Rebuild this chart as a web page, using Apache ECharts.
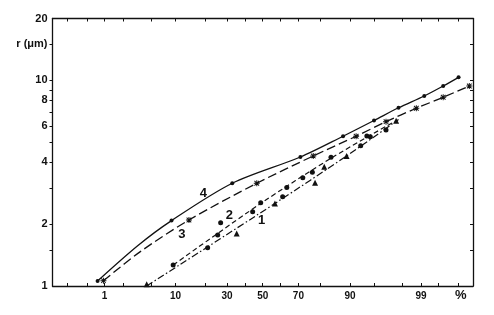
<!DOCTYPE html>
<html><head><meta charset="utf-8">
<script src="https://cdn.jsdelivr.net/npm/echarts@6/dist/echarts.min.js"></script>
<style>html,body{margin:0;padding:0;background:#fff}#c{width:494px;height:315px}</style>
</head><body><div id="c"></div>
<script>
// ---- Data: cumulative frequency (%) vs radius r (µm) ----
// Curve 4 (solid line, dots)
const c4Pct = [0.76, 9.0, 32.7, 71.0, 88.1, 94.9, 97.7, 99.12, 99.6, 99.8];
const c4R   = [1.058, 2.08, 3.16, 4.24, 5.35, 6.38, 7.36, 8.40, 9.39, 10.35];
const c4LinePct = [0.76, 3.3, 9.0, 32.7, 71.0, 88.1, 94.9, 97.7, 99.12, 99.6, 99.8];
const c4LineR   = [1.058, 1.57, 2.08, 3.16, 4.24, 5.35, 6.38, 7.36, 8.40, 9.39, 10.35];
// Curve 3 (long dashes, asterisks)
const c3Pct = [0.96, 13.9, 46.5, 77.1, 91.5, 96.5, 98.8, 99.6, 99.88];
const c3R   = [1.061, 2.094, 3.16, 4.29, 5.35, 6.30, 7.32, 8.28, 9.39];
const c3LinePct = [0.96, 3.6, 13.9, 46.5, 77.1, 91.5, 96.5, 98.8, 99.6, 99.88];
const c3LineR   = [1.061, 1.47, 2.094, 3.16, 4.29, 5.35, 6.30, 7.32, 8.28, 9.39];
// Curve 2 (short dashes, dots)
const c2Pct = [9.4, 20.9, 25.4, 26.8, 44.1, 48.8, 61.5, 63.8, 72.2, 76.7, 84.2, 92.5, 93.7, 94.3, 96.5];
const c2R   = [1.265, 1.536, 1.77, 2.03, 2.30, 2.54, 2.72, 3.01, 3.36, 3.57, 4.23, 4.81, 5.37, 5.32, 5.74];
const c2LinePct = [9.4, 48.8, 84.2, 97.3];
const c2LineR   = [1.265, 2.52, 4.18, 6.28];
// Curve 1 (dash-dot, triangles)
const c1Pct = [4.4, 35.1, 57.1, 77.9, 81.7, 89.1, 97.5];
const c1R   = [1.02, 1.80, 2.52, 3.18, 3.80, 4.29, 6.37];
const c1LinePct = [4.4, 57.1, 89.1, 97.7];
const c1LineR   = [1.0, 2.52, 4.29, 6.45];
// Curve number labels
const curveLabelText = ['4', '3', '2', '1'];
const curveLabelPct  = [19.1, 11.7, 31.2, 49.4];
const curveLabelR    = [2.82, 1.79, 2.21, 2.09];
// Axes
const xTickPct  = [0.2, 0.5, 1, 2, 5, 10, 20, 30, 40, 50, 60, 70, 80, 90, 95, 98, 99, 99.5, 99.8];
const xLabelPct = [1, 10, 30, 50, 70, 90, 99];
const xRangePct = [0.1, 99.9];
const yTicks  = [1.5, 2, 3, 4, 5, 6, 7, 8, 9, 10, 15];
const yLabels = [1, 2, 4, 6, 8, 10, 15, 20];
const yNameValue = 15;
const yName = 'r (μm)';

// inverse normal CDF (probability-paper transform)
function probit(p) {
  const a=[-3.969683028665376e+01,2.209460984245205e+02,-2.759285104469687e+02,1.383577518672690e+02,-3.066479806614716e+01,2.506628277459239e+00];
  const b=[-5.447609879822406e+01,1.615858368580409e+02,-1.556989798598866e+02,6.680131188771972e+01,-1.328068155288572e+01];
  const c=[-7.784894002430293e-03,-3.223964580411365e-01,-2.400758277161838e+00,-2.549732539343734e+00,4.374664141464968e+00,2.938163982698783e+00];
  const d=[7.784695709041462e-03,3.224671290700398e-01,2.445134137142996e+00,3.754408661907416e+00];
  const pl=0.02425, ph=1-pl; let q, r;
  if (p < pl) { q=Math.sqrt(-2*Math.log(p)); return (((((c[0]*q+c[1])*q+c[2])*q+c[3])*q+c[4])*q+c[5])/((((d[0]*q+d[1])*q+d[2])*q+d[3])*q+1); }
  if (p <= ph) { q=p-0.5; r=q*q; return (((((a[0]*r+a[1])*r+a[2])*r+a[3])*r+a[4])*r+a[5])*q/(((((b[0]*r+b[1])*r+b[2])*r+b[3])*r+b[4])*r+1); }
  q=Math.sqrt(-2*Math.log(1-p)); return -(((((c[0]*q+c[1])*q+c[2])*q+c[3])*q+c[4])*q+c[5])/((((d[0]*q+d[1])*q+d[2])*q+d[3])*q+1);
}
const z = pct => probit(pct / 100);
const pairs = (P, R) => P.map((p, i) => [z(p), R[i]]);

const INK = '#111111';
const FONT = 'Liberation Sans, Arial, sans-serif';
const zMin = z(xRangePct[0]), zMax = z(xRangePct[1]);
const xLabelZ = xLabelPct.map(z);
const xTickZ = xTickPct.map(z);

const asterisk = 'path://M4.2,0 L5.8,0 L5.8,10 L4.2,10 Z M0,4.2 L10,4.2 L10,5.8 L0,5.8 Z M0.6,1.7 L1.7,0.6 L9.4,8.3 L8.3,9.4 Z M8.3,0.6 L9.4,1.7 L1.7,9.4 L0.6,8.3 Z';

const axisLineStyle = { color: INK, width: 1.3 };
const xLabelStyle = { color: INK, fontSize: 10, fontWeight: 'bold', fontFamily: FONT };
const yLabelStyle = { color: INK, fontSize: 11, fontWeight: 'bold', fontFamily: FONT };
const markStyle = { color: INK, opacity: 1 };

const chart = echarts.init(document.getElementById('c'), null, { renderer: 'canvas' });
chart.setOption({
  animation: false,
  backgroundColor: '#fff',
  grid: { left: 52.5, right: 21, top: 18.5, bottom: 29, containLabel: false, outerBoundsMode: 'none' },
  xAxis: [
    { type: 'value', position: 'bottom', min: zMin, max: zMax,
      axisLine: { show: true, onZero: false, lineStyle: axisLineStyle },
      axisTick: { show: true, inside: true, length: 3, customValues: xTickZ, lineStyle: { color: INK, width: 1 } },
      axisLabel: Object.assign({ margin: 5, customValues: xLabelZ,
        formatter: v => { const i = xLabelZ.findIndex(t => Math.abs(t - v) < 1e-6); return i >= 0 ? String(xLabelPct[i]) : ''; } }, xLabelStyle),
      splitLine: { show: false } },
    { type: 'value', position: 'top', min: zMin, max: zMax,
      axisLine: { show: true, onZero: false, lineStyle: axisLineStyle },
      axisTick: { show: true, inside: true, length: 3, customValues: xTickZ, lineStyle: { color: INK, width: 1 } },
      axisLabel: { show: false }, splitLine: { show: false } }
  ],
  yAxis: [
    { type: 'log', logBase: 10, position: 'left', min: 1, max: 20,
      axisLine: { show: true, onZero: false, lineStyle: axisLineStyle },
      axisTick: { show: true, inside: false, length: 3, customValues: yTicks, lineStyle: { color: INK, width: 1 } },
      axisLabel: Object.assign({ margin: 5, customValues: yLabels,
        formatter: v => Math.abs(v - yNameValue) < 0.01 ? yName : String(Math.round(v)) }, yLabelStyle),
      splitLine: { show: false }, minorTick: { show: false } },
    { type: 'log', logBase: 10, position: 'right', min: 1, max: 20,
      axisLine: { show: true, onZero: false, lineStyle: axisLineStyle },
      axisTick: { show: true, inside: true, length: 3, customValues: yTicks, lineStyle: { color: INK, width: 1 } },
      axisLabel: { show: false }, splitLine: { show: false } }
  ],
  graphic: [
    { type: 'text', left: 455, top: 289, style: { text: '%', font: 'bold 13px ' + FONT, fill: INK } }
  ],
  series: [
    { type: 'line', data: pairs(c4LinePct, c4LineR), showSymbol: false, smooth: 0.3,
      lineStyle: { color: INK, width: 1.3, type: 'solid' } },
    { type: 'scatter', data: pairs(c4Pct, c4R), symbol: 'circle', symbolSize: 4, itemStyle: markStyle },
    { type: 'line', data: pairs(c3LinePct, c3LineR), showSymbol: false, smooth: 0.3,
      lineStyle: { color: INK, width: 1.3, type: [9, 4] } },
    { type: 'scatter', data: pairs(c3Pct, c3R), symbol: asterisk, symbolSize: 6, itemStyle: markStyle },
    { type: 'line', data: pairs(c2LinePct, c2LineR), showSymbol: false, smooth: 0.3,
      lineStyle: { color: INK, width: 1.2, type: [5, 3] } },
    { type: 'scatter', data: pairs(c2Pct, c2R), symbol: 'circle', symbolSize: 5, itemStyle: markStyle },
    { type: 'line', data: pairs(c1LinePct, c1LineR), showSymbol: false, smooth: 0.3,
      lineStyle: { color: INK, width: 1.2, type: [7, 2.5, 1.5, 2.5] } },
    { type: 'scatter', data: pairs(c1Pct, c1R), symbol: 'triangle', symbolSize: 6, itemStyle: markStyle },
    { type: 'scatter', silent: true, symbol: 'circle', symbolSize: 0.01, itemStyle: markStyle,
      data: curveLabelPct.map((p, i) => ({ value: [z(p), curveLabelR[i]], name: curveLabelText[i] })),
      label: { show: true, position: [0, 0], align: 'center', verticalAlign: 'middle', formatter: '{b}',
               color: INK, opacity: 1, textBorderWidth: 0, fontSize: 13, fontWeight: 'bold', fontFamily: FONT } }
  ]
});
</script>
</body></html>
